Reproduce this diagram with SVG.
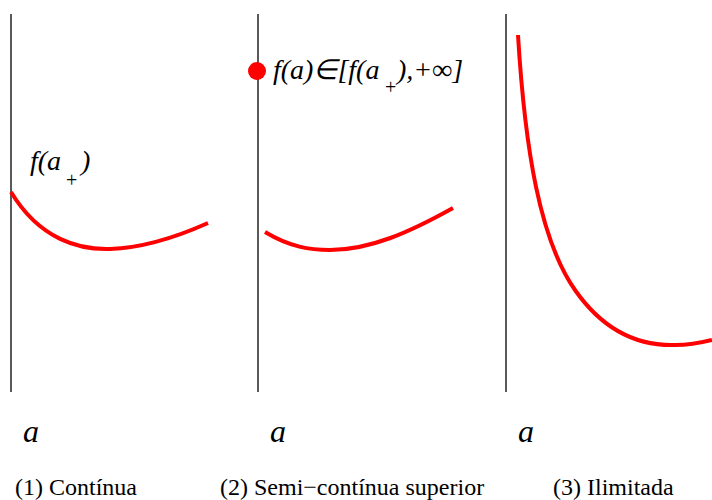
<svg xmlns="http://www.w3.org/2000/svg" width="712" height="500" viewBox="0 0 712 500">
<style>
.axis{stroke:#000;stroke-width:1.3;fill:none}
.curve{stroke:#ff0000;stroke-width:4;fill:none}
text{font-family:'Liberation Serif','Times New Roman',serif;fill:#000}
.m{font-style:italic;font-size:28px}
.sub{font-size:20px}
.var{font-style:italic;font-size:32px}
.lab{font-size:24px}
</style>
<rect width="712" height="500" fill="#fff"/>
<g id="panel1">
<line class="axis" x1="11" y1="14" x2="11" y2="392"/>
<path class="curve" d="M11,192 C40,240 80,250 110,249 C140,248 170,240 208,223"/>
<text class="m" x="30" y="170">f(a</text>
<text class="sub" x="66" y="187">+</text>
<text class="m" x="81" y="170">)</text>
<text class="var" x="23" y="442">a</text>
<text class="lab" x="15" y="495">(1) Contínua</text>
</g>
<g id="panel2">
<line class="axis" x1="258" y1="14" x2="258" y2="392"/>
<path class="curve" d="M265,232 C290,247 310,250 330,250 C370,250 410,232 453,208"/>
<circle cx="257" cy="71" r="9" fill="#ff0000"/>
<text class="m" x="273" y="79">f(a)∈[f(a</text>
<text class="sub" x="385" y="94">+</text>
<text class="m" x="397" y="79">),+∞]</text>
<text class="var" x="270" y="442">a</text>
<text class="lab" x="220" y="495">(2) Semi−contínua superior</text>
</g>
<g id="panel3">
<line class="axis" x1="506" y1="14" x2="506" y2="392"/>
<path class="curve" d="M518,35 C525,150 540,240 575,290 C605,333 640,346 675,345 C690,345 700,343 712,340"/>
<text class="var" x="518" y="442">a</text>
<text class="lab" x="553" y="495">(3) Ilimitada</text>
</g>
</svg>
